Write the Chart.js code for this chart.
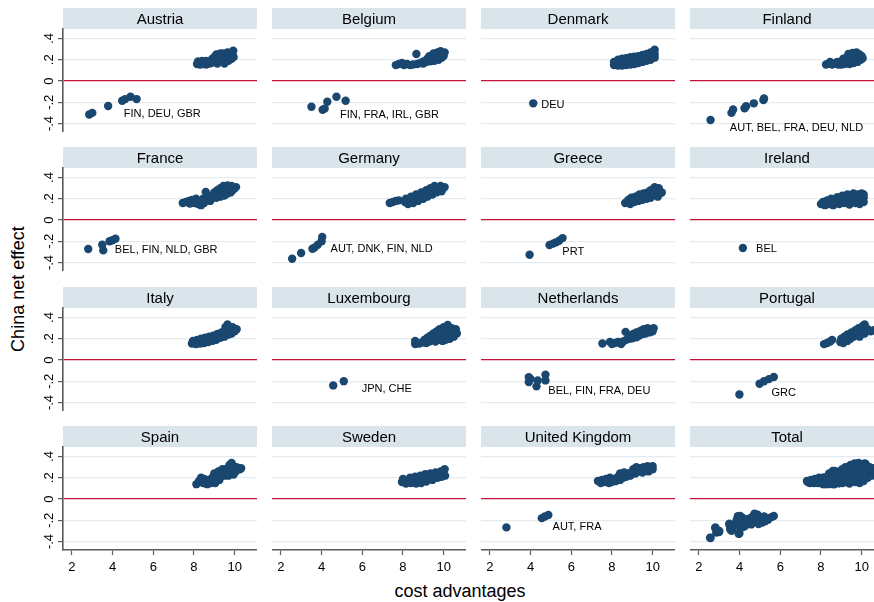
<!DOCTYPE html>
<html>
<head>
<meta charset="utf-8">
<title>China net effect by cost advantages</title>
<script src="https://cdn.jsdelivr.net/npm/chart.js@4.4.1/dist/chart.umd.min.js"></script>
<style>
  html, body { margin: 0; padding: 0; background: #fff; overflow: hidden; }
  #wrap { position: relative; width: 874px; height: 602px; overflow: hidden; background: #fff; }
  #wrap canvas { position: absolute; }
  .axis-title {
    position: absolute; white-space: nowrap; color: #000;
    font-family: "Liberation Sans", Arial, sans-serif; font-size: 18px; line-height: 1;
  }
  #ytitle { left: 18px; top: 289px; transform: translate(-50%, -50%) rotate(-90deg); }
  #xtitle { left: 460px; top: 591px; transform: translate(-50%, -50%); }
</style>
</head>
<body>
<div id="wrap">
  <div class="axis-title" id="ytitle">China net effect</div>
  <div class="axis-title" id="xtitle">cost advantages</div>
</div>
<script>
// ---- categories and ticks ----
const countries = ['Austria', 'Belgium', 'Denmark', 'Finland', 'France', 'Germany', 'Greece', 'Ireland',
                   'Italy', 'Luxembourg', 'Netherlands', 'Portugal', 'Spain', 'Sweden', 'United Kingdom', 'Total'];
const xTickValues = [2, 4, 6, 8, 10];
const yTickValues = [0.4, 0.2, 0, -0.2, -0.4];
const yTickLabels = ['.4', '.2', '0', '-.2', '-.4'];

// ---- observations: [cost advantages, China net effect] ----
const austria = [[2.85,-0.315],[3.0,-0.30],[3.78,-0.235],[4.47,-0.185],[4.62,-0.17],[4.88,-0.148],[5.18,-0.17],
  [8.15,0.16],[8.3,0.155],[8.45,0.16],[8.6,0.155],[8.75,0.165],[8.2,0.185],[8.4,0.19],[8.6,0.19],
  [8.85,0.17],[8.9,0.21],[9.0,0.18],[9.05,0.235],[9.15,0.165],[9.2,0.21],[9.25,0.25],[9.35,0.185],[9.4,0.225],
  [9.45,0.26],[9.5,0.165],[9.55,0.2],[9.6,0.24],[9.65,0.27],[9.7,0.19],[9.75,0.23],[9.8,0.265],[9.85,0.21],
  [9.9,0.245],[9.93,0.285],[9.95,0.225],[9.1,0.25],[9.3,0.26]];
const belgium = [[3.5,-0.242],[4.05,-0.27],[4.15,-0.26],[4.28,-0.195],[4.73,-0.148],[5.18,-0.185],
  [7.65,0.15],[7.8,0.16],[7.95,0.17],[8.05,0.15],[8.2,0.16],[8.35,0.15],[8.5,0.155],[8.66,0.255],[8.7,0.16],
  [8.85,0.17],[9.0,0.165],[9.0,0.185],[9.15,0.18],[9.2,0.21],[9.3,0.235],[9.35,0.185],[9.45,0.22],[9.5,0.26],
  [9.55,0.19],[9.65,0.23],[9.7,0.27],[9.75,0.2],[9.8,0.245],[9.85,0.28],[9.9,0.22],[9.95,0.26],[10.05,0.27],[10.0,0.235]];
const denmark = [[4.13,-0.21],
  [8.1,0.15],[8.1,0.18],[8.3,0.145],[8.3,0.175],[8.3,0.2],[8.5,0.145],[8.5,0.18],[8.5,0.21],[8.7,0.15],[8.7,0.185],
  [8.7,0.215],[8.9,0.155],[8.9,0.19],[8.9,0.225],[9.1,0.16],[9.1,0.195],[9.1,0.23],[9.3,0.17],[9.3,0.205],[9.3,0.235],
  [9.5,0.18],[9.5,0.215],[9.5,0.245],[9.7,0.19],[9.7,0.225],[9.7,0.255],[9.9,0.2],[9.9,0.235],[9.9,0.27],
  [10.1,0.22],[10.1,0.255],[10.1,0.295]];
const finland = [[2.57,-0.367],[3.6,-0.30],[3.68,-0.268],[4.24,-0.257],[4.32,-0.237],[4.7,-0.21],[5.17,-0.18],[5.2,-0.165],
  [8.25,0.155],[8.4,0.165],[8.55,0.155],[8.7,0.165],[8.85,0.155],[8.45,0.18],[8.8,0.18],
  [9.0,0.155],[9.0,0.185],[9.1,0.21],[9.15,0.16],[9.25,0.19],[9.3,0.225],[9.35,0.255],[9.4,0.16],[9.45,0.2],
  [9.5,0.235],[9.55,0.265],[9.6,0.17],[9.65,0.21],[9.7,0.245],[9.75,0.27],[9.8,0.18],[9.85,0.22],[9.9,0.25],
  [9.95,0.2],[10.0,0.235],[10.05,0.215]];
const france = [[2.8,-0.273],[3.49,-0.232],[3.54,-0.286],[3.85,-0.20],[3.98,-0.19],[4.14,-0.176],
  [7.45,0.16],[7.6,0.17],[7.75,0.18],[7.8,0.155],[7.9,0.19],[8.0,0.16],[8.1,0.2],[8.2,0.15],[8.3,0.18],[8.35,0.14],
  [8.45,0.2],[8.5,0.16],[8.58,0.265],[8.65,0.19],[8.75,0.22],[8.8,0.18],[8.9,0.21],[9.0,0.23],[9.0,0.26],[9.1,0.21],
  [9.15,0.28],[9.2,0.24],[9.3,0.22],[9.3,0.3],[9.4,0.26],[9.45,0.32],[9.5,0.23],[9.55,0.29],[9.65,0.25],[9.65,0.325],
  [9.75,0.3],[9.8,0.26],[9.85,0.32],[9.9,0.28],[10.0,0.3],[10.07,0.31]];
const germany = [[2.55,-0.364],[2.99,-0.311],[3.55,-0.27],[3.65,-0.26],[3.81,-0.232],[4.0,-0.2],[4.03,-0.16],
  [7.35,0.16],[7.5,0.17],[7.65,0.18],[7.8,0.185],[8.1,0.17],[8.15,0.2],[8.25,0.15],[8.35,0.19],[8.4,0.22],[8.5,0.16],
  [8.55,0.2],[8.65,0.24],[8.75,0.18],[8.8,0.22],[8.9,0.26],[9.0,0.2],[9.05,0.24],[9.15,0.28],[9.2,0.22],[9.3,0.26],
  [9.35,0.3],[9.45,0.24],[9.5,0.28],[9.55,0.32],[9.65,0.26],[9.7,0.3],[9.8,0.28],[9.85,0.32],[9.9,0.27],[9.95,0.3],[10.05,0.31]];
const greece = [[3.95,-0.327],[4.93,-0.235],[5.1,-0.222],[5.25,-0.21],[5.4,-0.195],[5.57,-0.17],
  [8.65,0.16],[8.8,0.19],[8.9,0.15],[8.95,0.21],[9.1,0.17],[9.15,0.22],[9.3,0.18],[9.35,0.24],[9.5,0.19],[9.55,0.25],
  [9.6,0.22],[9.7,0.2],[9.75,0.26],[9.9,0.21],[9.9,0.28],[10.05,0.24],[10.1,0.31],[10.2,0.27],[10.25,0.22],[10.3,0.3],
  [10.35,0.25],[10.45,0.26]];
const ireland = [[4.16,-0.264],
  [8.0,0.15],[8.1,0.17],[8.2,0.14],[8.3,0.185],[8.4,0.15],[8.5,0.2],[8.6,0.14],[8.7,0.175],[8.8,0.215],[8.9,0.15],
  [9.0,0.19],[9.05,0.23],[9.15,0.16],[9.25,0.2],[9.3,0.24],[9.4,0.145],[9.5,0.18],[9.5,0.22],[9.6,0.25],[9.7,0.16],
  [9.75,0.2],[9.8,0.24],[9.9,0.15],[9.95,0.185],[9.95,0.225],[10.0,0.25],[10.1,0.17],[10.1,0.21],[10.1,0.24]];
const italy = [[7.9,0.155],[7.95,0.18],[8.1,0.15],[8.15,0.19],[8.3,0.155],[8.35,0.2],[8.5,0.16],[8.55,0.21],[8.7,0.17],
  [8.75,0.22],[8.9,0.18],[8.95,0.23],[9.1,0.19],[9.15,0.245],[9.3,0.21],[9.35,0.26],[9.5,0.22],[9.5,0.27],[9.55,0.31],
  [9.6,0.24],[9.65,0.335],[9.7,0.24],[9.75,0.29],[9.85,0.25],[9.9,0.31],[10.0,0.27],[10.1,0.29]];
const luxembourg = [[4.57,-0.239],[5.09,-0.199],
  [8.6,0.15],[8.6,0.18],[8.8,0.155],[8.95,0.165],[9.05,0.19],[9.15,0.16],[9.2,0.21],[9.3,0.175],[9.35,0.23],[9.45,0.19],
  [9.5,0.25],[9.6,0.175],[9.6,0.21],[9.65,0.27],[9.75,0.19],[9.8,0.23],[9.8,0.29],[9.95,0.18],[9.95,0.21],[9.95,0.26],
  [10.0,0.31],[10.1,0.19],[10.1,0.24],[10.15,0.29],[10.2,0.33],[10.3,0.2],[10.3,0.26],[10.4,0.3],[10.5,0.22],
  [10.5,0.27],[10.65,0.25],[10.6,0.29]];
const netherlands = [[3.91,-0.161],[3.91,-0.208],[4.0,-0.18],[4.29,-0.248],[4.35,-0.192],[4.73,-0.138],[4.73,-0.192],
  [7.53,0.155],[7.9,0.17],[8.0,0.15],[8.15,0.16],[8.3,0.17],[8.45,0.15],[8.55,0.175],[8.67,0.265],[8.7,0.19],[8.85,0.2],
  [8.9,0.23],[9.0,0.205],[9.05,0.245],[9.2,0.215],[9.2,0.26],[9.35,0.23],[9.4,0.275],[9.5,0.245],[9.55,0.29],[9.65,0.25],
  [9.7,0.285],[9.75,0.3],[9.85,0.26],[9.9,0.29],[10.0,0.27],[10.05,0.3]];
const portugal = [[3.99,-0.324],[4.98,-0.223],[5.2,-0.2],[5.44,-0.18],[5.68,-0.16],
  [8.15,0.15],[8.3,0.16],[8.45,0.175],[8.55,0.19],[8.95,0.17],[9.0,0.2],[9.1,0.16],[9.15,0.22],[9.3,0.18],[9.3,0.24],
  [9.45,0.2],[9.5,0.26],[9.6,0.22],[9.7,0.28],[9.75,0.24],[9.85,0.3],[9.9,0.22],[10.0,0.27],[10.05,0.32],[10.15,0.335],
  [10.15,0.25],[10.3,0.29],[10.45,0.27],[10.6,0.28]];
const spain = [[8.12,0.14],[8.25,0.17],[8.35,0.2],[8.45,0.15],[8.5,0.19],[8.65,0.14],[8.7,0.18],[8.85,0.15],[8.9,0.2],
  [9.0,0.24],[9.05,0.15],[9.1,0.2],[9.2,0.26],[9.25,0.18],[9.35,0.23],[9.4,0.28],[9.5,0.22],[9.55,0.26],[9.65,0.29],
  [9.7,0.22],[9.75,0.32],[9.8,0.27],[9.85,0.34],[9.95,0.31],[9.95,0.23],[10.05,0.26],[10.1,0.3],[10.25,0.28],[10.32,0.29]];
const sweden = [[7.95,0.16],[8.0,0.19],[8.15,0.145],[8.2,0.18],[8.35,0.2],[8.4,0.15],[8.55,0.18],[8.6,0.21],[8.65,0.145],
  [8.8,0.18],[8.85,0.22],[8.9,0.15],[9.05,0.2],[9.1,0.235],[9.15,0.165],[9.3,0.2],[9.35,0.24],[9.45,0.18],[9.55,0.22],
  [9.6,0.25],[9.7,0.2],[9.8,0.235],[9.85,0.26],[9.9,0.21],[10.0,0.24],[10.05,0.28],[10.07,0.22]];
const unitedKingdom = [[2.81,-0.267],[4.55,-0.18],[4.7,-0.165],[4.87,-0.15],
  [7.31,0.17],[7.45,0.15],[7.5,0.18],[7.65,0.16],[7.7,0.19],[7.85,0.15],[7.9,0.2],[8.0,0.16],[8.1,0.19],[8.2,0.17],
  [8.3,0.21],[8.4,0.18],[8.4,0.24],[8.55,0.2],[8.6,0.25],[8.7,0.21],[8.8,0.24],[8.9,0.22],[9.0,0.26],[9.05,0.28],
  [9.15,0.24],[9.2,0.3],[9.3,0.26],[9.4,0.29],[9.5,0.25],[9.55,0.3],[9.65,0.27],[9.75,0.31],[9.8,0.26],[9.9,0.29],
  [10.0,0.28],[10.0,0.31]];

const countryPoints = [austria, belgium, denmark, finland, france, germany, greece, ireland,
                       italy, luxembourg, netherlands, portugal, spain, sweden, unitedKingdom];
// the Total panel pools every country's observations
const totalPoints = [].concat(...countryPoints);
const panelPoints = countryPoints.concat([totalPoints]);

// partner-country marker labels, anchored in data units
const markerLabels = {
  'Austria':        { text: 'FIN, DEU, GBR',           at: [4.55, -0.313] },
  'Belgium':        { text: 'FIN, FRA, IRL, GBR',      at: [4.90, -0.32] },
  'Denmark':        { text: 'DEU',                     at: [4.52, -0.229] },
  'Finland':        { text: 'AUT, BEL, FRA, DEU, NLD', at: [3.52, -0.442] },
  'France':         { text: 'BEL, FIN, NLD, GBR',      at: [4.11, -0.28] },
  'Germany':        { text: 'AUT, DNK, FIN, NLD',      at: [4.44, -0.27] },
  'Greece':         { text: 'PRT',                     at: [5.56, -0.30] },
  'Ireland':        { text: 'BEL',                     at: [4.81, -0.273] },
  'Luxembourg':     { text: 'JPN, CHE',                at: [5.97, -0.27] },
  'Netherlands':    { text: 'BEL, FIN, FRA, DEU',      at: [4.87, -0.295] },
  'Portugal':       { text: 'GRC',                     at: [5.57, -0.307] },
  'United Kingdom': { text: 'AUT, FRA',                at: [5.08, -0.267] }
};

// ---- layout & style ----
const FONT = '"Liberation Sans", Arial, Helvetica, sans-serif';
const X_MIN = 1.56, X_MAX = 11.1;
const Y_MIN = -0.48, Y_MAX = 0.49;
const COL_LEFT = [63, 272, 481, 690];
const ROW_TOP = [29, 168, 308, 447];
const PLOT_W = 194, PLOT_H = 103, STRIP_H = 21;
const LEFT_AXIS_W = 40, BOTTOM_AXIS_H = 30;
const STRIP_FILL = '#d9e5eb';
const GRID_COLOR = '#e4ecef';
const ZERO_COLOR = '#c3113c';
const AXIS_COLOR = '#5a5a5a';
const MARKER = '#1a476f';

Chart.defaults.font.family = FONT;

// strip title above each plot, rotated y tick labels and marker labels
const panelDecor = {
  id: 'panelDecor',
  beforeDraw(chart, args, opts) {
    const { ctx, chartArea: a } = chart;
    ctx.save();
    ctx.fillStyle = STRIP_FILL;
    ctx.fillRect(a.left, a.top - STRIP_H, a.right - a.left, STRIP_H);
    ctx.fillStyle = '#000';
    ctx.font = '15px ' + FONT;
    ctx.textAlign = 'center';
    ctx.textBaseline = 'middle';
    ctx.fillText(opts.title, (a.left + a.right) / 2, a.top - STRIP_H / 2 + 1);
    ctx.restore();
  },
  afterDraw(chart, args, opts) {
    const { ctx, chartArea: a, scales } = chart;
    ctx.save();
    ctx.fillStyle = '#000';
    if (opts.yLabels) {
      ctx.font = '13px ' + FONT;
      ctx.textAlign = 'center';
      ctx.textBaseline = 'middle';
      yTickValues.forEach((v, i) => {
        const py = scales.y.getPixelForValue(v);
        ctx.save();
        ctx.translate(a.left - 14, py);
        ctx.rotate(-Math.PI / 2);
        ctx.fillText(yTickLabels[i], 0, 0);
        ctx.restore();
      });
    }
    const lab = markerLabels[opts.title];
    if (lab) {
      ctx.font = '11px ' + FONT;
      ctx.textAlign = 'left';
      ctx.textBaseline = 'middle';
      ctx.fillText(lab.text, scales.x.getPixelForValue(lab.at[0]), scales.y.getPixelForValue(lab.at[1]));
    }
    ctx.restore();
  }
};

const wrap = document.getElementById('wrap');

countries.forEach((name, idx) => {
  const r = Math.floor(idx / 4), c = idx % 4;
  const isLeft = c === 0, isBottom = r === 3;
  const leftPad = isLeft ? LEFT_AXIS_W : 0;
  const bottomPad = isBottom ? BOTTOM_AXIS_H : 0;
  const W = leftPad + PLOT_W, H = STRIP_H + PLOT_H + bottomPad;

  const canvas = document.createElement('canvas');
  canvas.width = W; canvas.height = H;
  canvas.style.width = W + 'px'; canvas.style.height = H + 'px';
  canvas.style.left = (COL_LEFT[c] - leftPad) + 'px';
  canvas.style.top = (ROW_TOP[r] - STRIP_H) + 'px';
  wrap.appendChild(canvas);

  new Chart(canvas, {
    type: 'scatter',
    data: {
      datasets: [{
        data: panelPoints[idx].map(p => ({ x: p[0], y: p[1] })),
        backgroundColor: MARKER,
        borderWidth: 0,
        pointRadius: 4.2,
        pointHoverRadius: 4.2
      }]
    },
    options: {
      responsive: false,
      animation: false,
      events: [],
      devicePixelRatio: 1,
      layout: { autoPadding: false, padding: { top: STRIP_H, left: 0, right: 0, bottom: 0 } },
      plugins: {
        legend: { display: false },
        tooltip: { enabled: false },
        panelDecor: { title: name, yLabels: isLeft }
      },
      scales: {
        x: {
          type: 'linear', min: X_MIN, max: X_MAX,
          afterBuildTicks: s => { s.ticks = xTickValues.map(v => ({ value: v })); },
          afterFit: s => { s.height = bottomPad; s.paddingLeft = 0; s.paddingRight = 0; },
          ticks: { display: isBottom, color: '#000', font: { size: 13 }, padding: 5,
                   maxRotation: 0, minRotation: 0, callback: v => String(v) },
          grid: { display: isBottom, drawOnChartArea: false, drawTicks: true, tickLength: 5,
                  tickColor: AXIS_COLOR, tickWidth: 1.2 },
          border: { display: isBottom, color: AXIS_COLOR, width: 1.6 }
        },
        y: {
          type: 'linear', min: Y_MIN, max: Y_MAX,
          afterBuildTicks: s => { s.ticks = yTickValues.map(v => ({ value: v })); },
          afterFit: s => { s.width = leftPad; s.paddingTop = 0; s.paddingBottom = 0; },
          ticks: { display: false },
          grid: {
            color: ctx => (ctx.tick && ctx.tick.value === 0) ? ZERO_COLOR : GRID_COLOR,
            lineWidth: ctx => (ctx.tick && ctx.tick.value === 0) ? 1.3 : 1.2,
            drawTicks: isLeft, tickLength: 5, tickColor: AXIS_COLOR, tickWidth: 1.2
          },
          border: { display: isLeft, color: AXIS_COLOR, width: 1.6 }
        }
      }
    },
    plugins: [panelDecor]
  });
});
</script>
</body>
</html>
